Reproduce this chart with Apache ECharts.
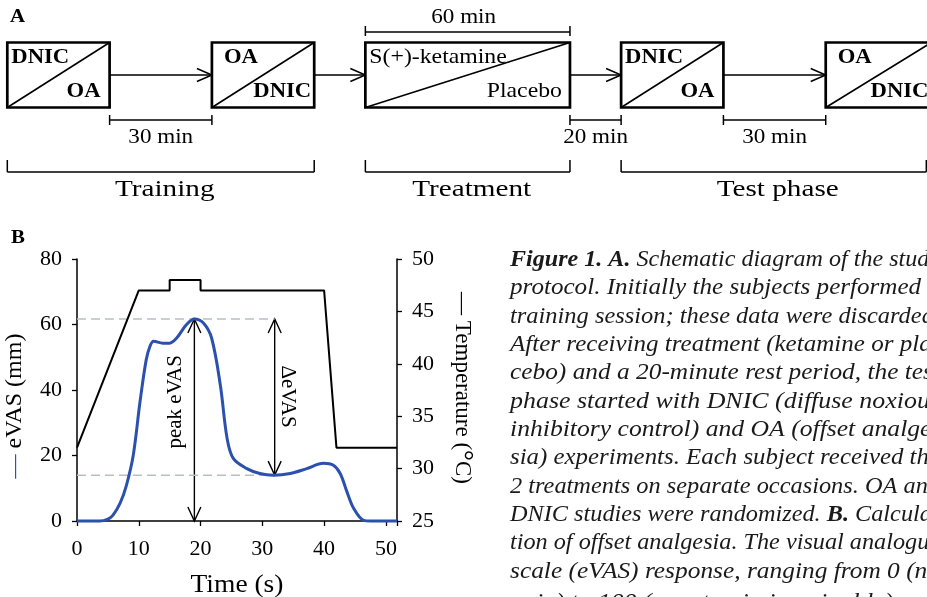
<!DOCTYPE html>
<html><head><meta charset="utf-8">
<script src="https://cdn.jsdelivr.net/npm/echarts@6/dist/echarts.min.js"></script>
<style>html,body{margin:0;padding:0;background:#fff}#c{width:927px;height:597px}</style>
</head><body><div id="c"></div>
<script>
// ===== Panel A: study schedule (minutes) =====
const boxStart  = [0, 60, 105, 180, 240];
const boxEnd    = [30, 90, 165, 210, 271];
const boxTop    = ['DNIC', 'OA', 'S(+)-ketamine', 'DNIC', 'OA'];
const boxBottom = ['OA', 'DNIC', 'Placebo', 'OA', 'DNIC'];
const boxBold   = [true, true, false, true, true];
const gapStart  = [30, 165, 210];
const gapEnd    = [60, 180, 240];
const gapLabel  = ['30 min', '20 min', '30 min'];
const spanStart = [105];
const spanEnd   = [165];
const spanLabel = ['60 min'];
const phaseStart = [0, 105, 180];
const phaseEnd   = [90, 165, 269.5];
const phaseLabel = ['Training', 'Treatment', 'Test phase'];

// ===== Panel B: eVAS and temperature over time (s) =====
const timeS = [0, 3.7, 5, 5.8, 7, 8, 9.1, 10.2, 11.2, 11.8, 12.4, 13.9, 15, 16.1, 17.7, 19, 20.5, 21.8, 23.2, 24.3, 25.3, 27.5, 29.6, 31.8, 34.5, 37.2, 39.9, 41.5, 42.6, 43.7, 44.8, 46.4, 47.5, 51.8];
const evas  = [0, 0, 0.6, 1.7, 5.5, 10.9, 20, 36.4, 49.2, 53.3, 54.9, 54.3, 54.3, 55.8, 59.9, 61.7, 60.4, 55.8, 41.5, 25.2, 19.1, 16, 14.5, 14, 14.5, 16, 17.6, 17, 14.5, 8.9, 3.8, 0.2, 0, 0];
const tempTime = [0, 10, 15, 15, 20, 20, 40, 42, 51.8];
const temp     = [32, 47, 47, 48, 48, 47, 47, 32, 32];
const refLevel = [61.7, 14];          // peak and trough eVAS
const refEnd   = [32, 32];
const arrowX    = [19, 32];
const arrowFrom = [0, 14];
const arrowTo   = [61.7, 61.7];
const annotX    = [15.9, 34.0];
const annotY    = [36.4, 38.0];
const annotText = ['peak eVAS', '\u0394eVAS'];

// ===== Caption =====
const captionLines = [
  '{b|Figure 1. A.} Schematic diagram of the study',
  'protocol. Initially the subjects performed a',
  'training session; these data were discarded.',
  'After receiving treatment (ketamine or pla-',
  'cebo) and a 20-minute rest period, the test',
  'phase started with DNIC (diffuse noxious',
  'inhibitory control) and OA (offset analge-',
  'sia) experiments. Each subject received the',
  '2 treatments on separate occasions. OA and',
  'DNIC studies were randomized. {b|B.} Calcula-',
  'tion of offset analgesia. The visual analogue',
  'scale (eVAS) response, ranging from 0 (no',
  'pain) to 100 (worst pain imaginable) was'
];

const FAM = '"Liberation Serif", "Times New Roman", serif';
const BLUE = '#2b51ad';
const mctx = document.createElement('canvas').getContext('2d');
function measureLine(s, size) {
  let w = 0, last = 0, m;
  const re = /\{b\|([^}]*)\}/g;
  while ((m = re.exec(s))) {
    mctx.font = 'italic ' + size + 'px ' + FAM; w += mctx.measureText(s.slice(last, m.index)).width;
    mctx.font = 'italic bold ' + size + 'px ' + FAM; w += mctx.measureText(m[1]).width;
    last = re.lastIndex;
  }
  mctx.font = 'italic ' + size + 'px ' + FAM; w += mctx.measureText(s.slice(last)).width;
  return w;
}

const chart = echarts.init(document.getElementById('c'));

function xPix(api, v) { return api.coord([v, 0])[0]; }
const K = { stroke: '#000', lineWidth: 1.5 };

function boxItem(params, api) {
  const i = params.dataIndex;
  const x0 = xPix(api, api.value(0)), x1 = xPix(api, api.value(1));
  const T = 42.5, B = 107.5;
  const bold = boxBold[i];
  const font = (bold ? 'bold ' : '') + '22px ' + FAM;
  const sx = bold ? 1.03 : 1.08;
  const tp = boxTop[i].length <= 2 ? 12 : 4;
  const bp = boxBottom[i].length <= 2 ? 9 : (bold ? 3 : 8);
  return { type: 'group', children: [
    { type: 'rect', shape: { x: x0, y: T, width: x1 - x0, height: B - T }, style: { fill: '#fff', stroke: '#000', lineWidth: 2.7 } },
    { type: 'line', shape: { x1: x0, y1: B, x2: x1, y2: T }, style: { stroke: '#000', lineWidth: 1.6 } },
    { type: 'text', x: x0 + tp, y: 57.5, scaleX: sx, style: { text: boxTop[i], x: 0, y: 0, font: font, fill: '#000', textAlign: 'left', textVerticalAlign: 'middle' } },
    { type: 'text', x: x1 - bp, y: 91.5, scaleX: sx, style: { text: boxBottom[i], x: 0, y: 0, font: font, fill: '#000', textAlign: 'right', textVerticalAlign: 'middle' } }
  ]};
}
function flowArrow(params, api) {
  const x0 = xPix(api, api.value(0)), x1 = xPix(api, api.value(1));
  const y = 75;
  return { type: 'group', children: [
    { type: 'line', shape: { x1: x0, y1: y, x2: x1, y2: y }, style: K },
    { type: 'polyline', shape: { points: [[x1 - 15, y - 6.5], [x1, y], [x1 - 15, y + 6.5]] }, style: { stroke: '#000', lineWidth: 1.5, fill: null } }
  ]};
}
function bracket(yLine, yLabel, up, down, labels, size, sx, dx) {
  return function (params, api) {
    const i = params.dataIndex;
    const x0 = xPix(api, api.value(0)), x1 = xPix(api, api.value(1));
    return { type: 'group', children: [
      { type: 'line', shape: { x1: x0, y1: yLine, x2: x1, y2: yLine }, style: K },
      { type: 'line', shape: { x1: x0, y1: yLine - up, x2: x0, y2: yLine + down }, style: K },
      { type: 'line', shape: { x1: x1, y1: yLine - up, x2: x1, y2: yLine + down }, style: K },
      { type: 'text', x: (x0 + x1) / 2 + dx, y: yLabel, scaleX: sx, style: { text: labels[i], x: 0, y: 0, font: size + 'px ' + FAM, fill: '#000', textAlign: 'center', textVerticalAlign: 'middle' } }
    ]};
  };
}
function vArrow(params, api) {
  const p0 = api.coord([api.value(0), api.value(1)]);
  const p1 = api.coord([api.value(0), api.value(2)]);
  const hw = 6.5, hl = 14, st = { stroke: '#000', lineWidth: 1.4, fill: null };
  return { type: 'group', children: [
    { type: 'line', shape: { x1: p0[0], y1: p0[1], x2: p1[0], y2: p1[1] }, style: st },
    { type: 'polyline', shape: { points: [[p1[0] - hw, p1[1] + hl], [p1[0], p1[1]], [p1[0] + hw, p1[1] + hl]] }, style: st },
    { type: 'polyline', shape: { points: [[p0[0] - hw, p0[1] - hl], [p0[0], p0[1]], [p0[0] + hw, p0[1] - hl]] }, style: st }
  ]};
}
function annot(params, api) {
  const i = params.dataIndex;
  const p = api.coord([api.value(0), api.value(1)]);
  return { type: 'text', x: p[0], y: p[1], rotation: i === 0 ? Math.PI / 2 : -Math.PI / 2,
    style: { text: annotText[i], x: 0, y: 0, font: '21px ' + FAM, fill: '#000', textAlign: 'center', textVerticalAlign: 'middle' } };
}

const axisTxt = { fontSize: 22, fontFamily: FAM, color: '#000' };
const axLine = { show: true, lineStyle: { color: '#000', width: 1.5 } };
const axTick = { show: true, length: 5, lineStyle: { color: '#000', width: 1.3 } };

const capGraphics = captionLines.map((s, i) => ({
  type: 'text', x: 510, y: (i < 12 ? 260 + i * 28.33 : 603), scaleX: 430 / measureLine(s, 23),
  style: { text: s, x: 0, y: 0, fontSize: 23, fontStyle: 'italic', fontFamily: FAM, fill: '#1a1a1a',
    textVerticalAlign: 'middle',
    rich: { b: { fontSize: 23, fontStyle: 'italic', fontWeight: 'bold', fontFamily: FAM, fill: '#1a1a1a' } } }
}));

chart.setOption({
  animation: false,
  backgroundColor: '#fff',
  grid: [
    { left: 7.3, right: 0, top: 0, bottom: 0 },
    { left: 77, top: 259, width: 320, height: 262 }
  ],
  xAxis: [
    { type: 'value', gridIndex: 0, min: 0, max: 269.7, show: false },
    { type: 'value', gridIndex: 1, min: 0, max: 51.8, interval: 10,
      axisLine: axLine, axisTick: axTick, splitLine: { show: false },
      axisLabel: Object.assign({ margin: 17, formatter: v => (v % 10 === 0 ? String(v) : '') }, axisTxt) }
  ],
  yAxis: [
    { type: 'value', gridIndex: 0, min: 0, max: 300, show: false },
    { type: 'value', gridIndex: 1, position: 'left', min: 0, max: 80, interval: 20,
      axisLine: axLine, axisTick: axTick, splitLine: { show: false },
      axisLabel: Object.assign({ margin: 15 }, axisTxt) },
    { type: 'value', gridIndex: 1, position: 'right', min: 25, max: 50, interval: 5,
      axisLine: axLine, axisTick: axTick, splitLine: { show: false },
      axisLabel: Object.assign({ margin: 15 }, axisTxt) }
  ],
  graphic: [
    { type: 'text', x: 10, y: 17, scaleX: 1.1, style: { text: 'A', font: 'bold 19px ' + FAM, fill: '#000', textVerticalAlign: 'middle' } },
    { type: 'text', x: 11, y: 238, scaleX: 1.1, style: { text: 'B', font: 'bold 19px ' + FAM, fill: '#000', textVerticalAlign: 'middle' } },
    { type: 'text', x: 15, y: 406, rotation: Math.PI / 2,
      style: { text: '{d|\u2014} eVAS (mm)', fontSize: 24, fontFamily: FAM, fill: '#000', textAlign: 'center', textVerticalAlign: 'middle',
        rich: { d: { fontSize: 24, fontFamily: FAM, fill: BLUE } } } },
    { type: 'text', x: 462, y: 388, rotation: -Math.PI / 2,
      style: { text: '\u2014 Temperature ({g|\u00B0}C)', fontSize: 23, fontFamily: FAM, fill: '#000', textAlign: 'center', textVerticalAlign: 'middle',
        rich: { g: { fontSize: 27, fontFamily: FAM, fill: '#000' } } } },
    { type: 'text', x: 237, y: 585, scaleX: 1.1, style: { text: 'Time (s)', font: '25px ' + FAM, fill: '#000', textAlign: 'center', textVerticalAlign: 'middle' } }
  ].concat(capGraphics),
  series: [
    { type: 'custom', xAxisIndex: 0, yAxisIndex: 0, renderItem: flowArrow, silent: true,
      data: boxEnd.slice(0, -1).map((e, i) => [e, boxStart[i + 1]]) },
    { type: 'custom', xAxisIndex: 0, yAxisIndex: 0, renderItem: boxItem, silent: true,
      data: boxStart.map((s, i) => [s, boxEnd[i]]) },
    { type: 'custom', xAxisIndex: 0, yAxisIndex: 0, renderItem: bracket(120, 137, 5, 5, gapLabel, 21, 1.1, 0), silent: true,
      data: gapStart.map((s, i) => [s, gapEnd[i]]) },
    { type: 'custom', xAxisIndex: 0, yAxisIndex: 0, renderItem: bracket(32, 17.5, 6, 4, spanLabel, 21, 1.1, -4), silent: true,
      data: spanStart.map((s, i) => [s, spanEnd[i]]) },
    { type: 'custom', xAxisIndex: 0, yAxisIndex: 0, renderItem: bracket(172, 190, 12, 0, phaseLabel, 23, 1.27, 4), silent: true,
      data: phaseStart.map((s, i) => [s, phaseEnd[i]]) },

    // Panel B
    { type: 'line', name: 'peak ref', xAxisIndex: 1, yAxisIndex: 1, symbol: 'none', silent: true,
      lineStyle: { color: '#b7bec6', width: 1.5, type: [9, 5] }, data: [[0, refLevel[0]], [refEnd[0], refLevel[0]]] },
    { type: 'line', name: 'trough ref', xAxisIndex: 1, yAxisIndex: 1, symbol: 'none', silent: true,
      lineStyle: { color: '#b7bec6', width: 1.5, type: [9, 5] }, data: [[0, refLevel[1]], [refEnd[1], refLevel[1]]] },
    { type: 'line', name: 'Temperature', xAxisIndex: 1, yAxisIndex: 2, symbol: 'none', clip: false,
      lineStyle: { color: '#000', width: 2 }, data: tempTime.map((t, i) => [t, temp[i]]) },
    { type: 'custom', xAxisIndex: 1, yAxisIndex: 1, renderItem: vArrow, silent: true,
      data: arrowX.map((x, i) => [x, arrowFrom[i], arrowTo[i]]) },
    { type: 'line', name: 'eVAS', xAxisIndex: 1, yAxisIndex: 1, symbol: 'none', smooth: 0.35, clip: false,
      lineStyle: { color: BLUE, width: 3 }, data: timeS.map((t, i) => [t, evas[i]]) },
    { type: 'custom', xAxisIndex: 1, yAxisIndex: 1, renderItem: annot, silent: true,
      data: annotX.map((x, i) => [x, annotY[i]]) }
  ]
});
</script>
</body></html>
